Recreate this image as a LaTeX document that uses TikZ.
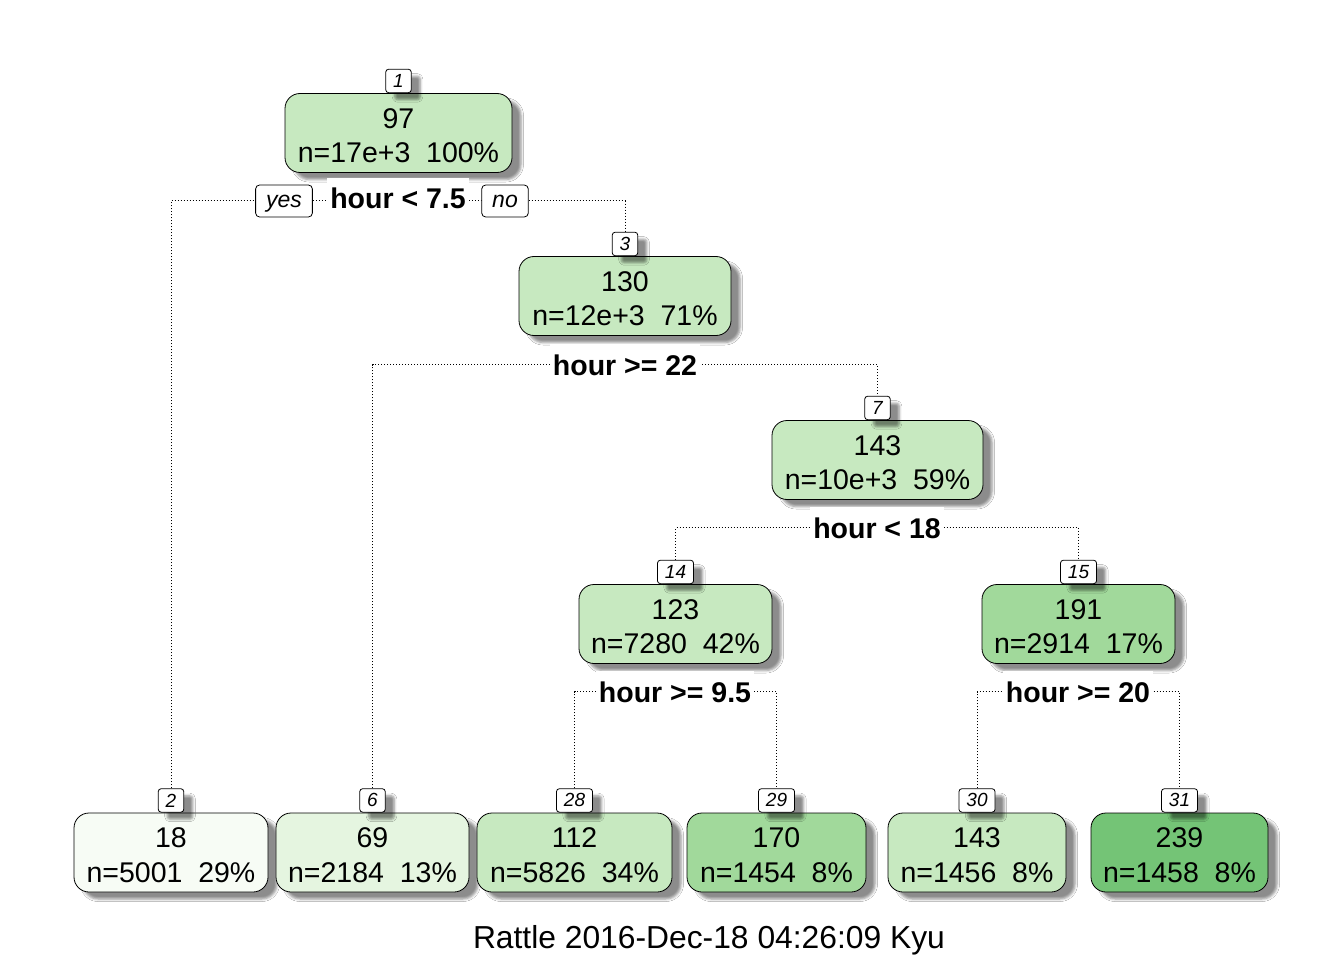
\documentclass[tikz,border=0pt]{standalone}
\usepackage{fontspec}
\setmainfont{Liberation Sans}
\usetikzlibrary{shadows.blur}
\pgfdeclarelayer{background}
\pgfsetlayers{background,main}
\definecolor{gA}{HTML}{F7FCF5}
\definecolor{gB}{HTML}{E5F5E0}
\definecolor{gC}{HTML}{C7E9C0}
\definecolor{gD}{HTML}{A1D99B}
\definecolor{gE}{HTML}{74C476}
\newcommand{\topstrut}{\rule{0pt}{25.5pt}}
\begin{document}
\begin{tikzpicture}[x=1pt,y=-1pt,
  shd/.style={blur shadow={shadow xshift=9pt,shadow yshift=-7pt,shadow blur radius=2.5pt,shadow opacity=45}},
  tn/.style={draw=black,line width=0.8pt,rounded corners=15pt,minimum height=79pt,inner sep=0pt,
    align=center,font=\fontsize{28.5}{34.5}\selectfont,shd},
  nl/.style={draw=black,fill=white,line width=0.8pt,rounded corners=3pt,minimum height=23.5pt,
    inner xsep=7.5pt,inner ysep=0pt,font=\fontsize{19}{19}\selectfont\itshape,anchor=south,shd},
  sl/.style={fill=white,inner xsep=3pt,inner ysep=10pt,font=\fontsize{28.5}{34}\selectfont\bfseries,anchor=base},
  yn/.style={draw=black,fill=white,line width=0.8pt,rounded corners=4pt,minimum height=32pt,
    text height=17pt,text depth=4pt,
    inner xsep=10.5pt,inner ysep=0pt,font=\fontsize{23}{23}\selectfont\itshape},
  edg/.style={line width=1pt,dash pattern=on 1pt off 2pt}
]
\useasboundingbox (0,0) rectangle (1344,960);

% tree nodes
\node[tn,fill=gC,minimum width=227pt] (n1) at (398.5,133) {\topstrut 97\\n=17e+3\ \ 100\%};
\node[tn,fill=gC,minimum width=212pt] (n3) at (625,296) {\topstrut 130\\n=12e+3\ \ 71\%};
\node[tn,fill=gC,minimum width=211pt] (n7) at (877.5,460) {\topstrut 143\\n=10e+3\ \ 59\%};
\node[tn,fill=gC,minimum width=193pt] (n14) at (675.5,624) {\topstrut 123\\n=7280\ \ 42\%};
\node[tn,fill=gD,minimum width=193pt] (n15) at (1078.5,624) {\topstrut 191\\n=2914\ \ 17\%};
\node[tn,fill=gA,minimum width=194pt] (n2) at (171,852.5) {\topstrut 18\\n=5001\ \ 29\%};
\node[tn,fill=gB,minimum width=193pt] (n6) at (372.5,852.5) {\topstrut 69\\n=2184\ \ 13\%};
\node[tn,fill=gC,minimum width=195pt] (n28) at (574.5,852.5) {\topstrut 112\\n=5826\ \ 34\%};
\node[tn,fill=gD,minimum width=179pt] (n29) at (776.5,852.5) {\topstrut 170\\n=1454\ \ 8\%};
\node[tn,fill=gC,minimum width=178pt] (n30) at (977,852.5) {\topstrut 143\\n=1456\ \ 8\%};
\node[tn,fill=gE,minimum width=177pt] (n31) at (1179.5,852.5) {\topstrut 239\\n=1458\ \ 8\%};

% number labels
\node[nl] (l1) at (n1.north) {1};
\node[nl] (l3) at (n3.north) {3};
\node[nl] (l7) at (n7.north) {7};
\node[nl] (l14) at (n14.north) {14};
\node[nl] (l15) at (n15.north) {15};
\node[nl] (l2) at (n2.north) {2};
\node[nl] (l6) at (n6.north) {6};
\node[nl] (l28) at (n28.north) {28};
\node[nl] (l29) at (n29.north) {29};
\node[nl] (l30) at (n30.north) {30};
\node[nl] (l31) at (n31.north) {31};

% split labels
\node[sl] (s1) at (398,209) {hour < 7.5};
\node[sl] (s3) at (625,375) {hour >= 22};
\node[sl] (s7) at (877,538) {hour < 18};
\node[sl] (s14) at (675,702) {hour >= 9.5};
\node[sl] (s15) at (1078,702) {hour >= 20};

\node[yn] (yes) at (284,201) {yes};
\node[yn] (no) at (505,201) {no};

% connectors
\begin{pgfonlayer}{background}
\fill[white] (0,0) rectangle (1344,960);
\draw[edg] (l2.north) |- (yes.west);
\draw[edg] (yes.east) -- (no.west);
\draw[edg] (no.east) -| (l3.north);
\draw[edg] (l6.north) |- (s3.west) -- (s3.east) -| (l7.north);
\draw[edg] (l14.north) |- (s7.west) -- (s7.east) -| (l15.north);
\draw[edg] (l28.north) |- (s14.west) -- (s14.east) -| (l29.north);
\draw[edg] (l30.north) |- (s15.west) -- (s15.east) -| (l31.north);
\end{pgfonlayer}

\node[font=\fontsize{31.8}{38}\selectfont,anchor=base,inner sep=0pt] (foot) at (709,948) {Rattle 2016-Dec-18 04:26:09 Kyu};
\end{tikzpicture}
\end{document}
